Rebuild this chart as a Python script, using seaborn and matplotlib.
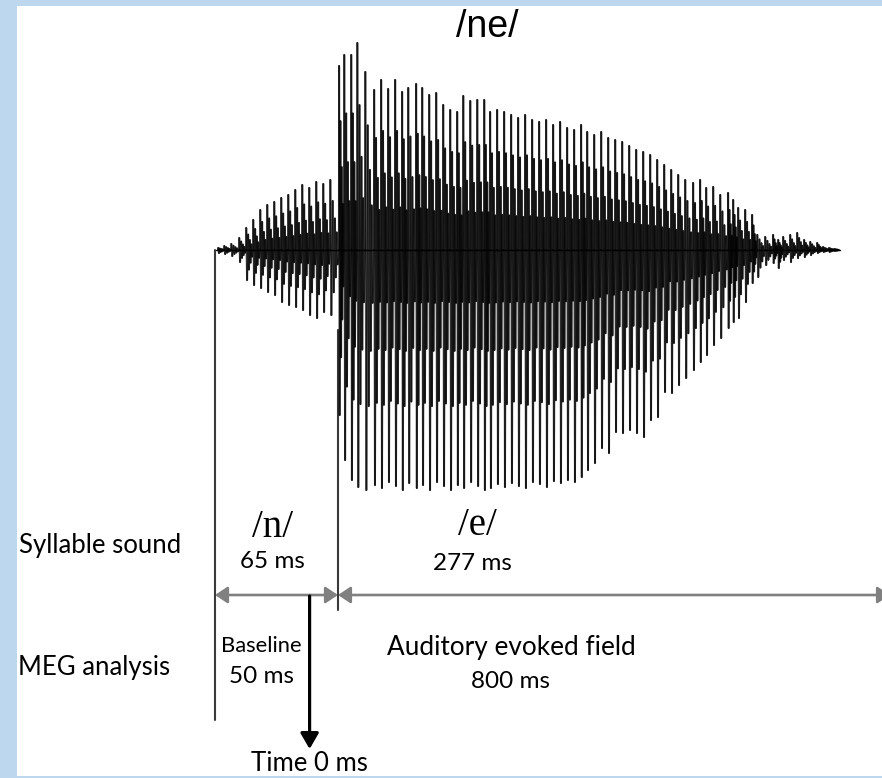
import numpy as np
import pandas as pd
import matplotlib
matplotlib.use("Agg")
import matplotlib.pyplot as plt
import seaborn as sns

# ---- segment durations (ms) ----
segment_labels = ["/n/", "/e/"]
segment_ms = [65, 277]
baseline_ms = 50
aef_ms = 800

# ---- glottal pulses: onset time (ms from sound onset), upward and downward peak ----
pulse_t_n = [1.6, 4.8, 8.5, 12.7, 16.4, 20.1, 23.8, 27.5, 31.2, 34.9,
             38.6, 42.3, 46.0, 49.7, 53.4, 57.1, 60.8]
pulse_up_n = [2, 4, 6, 12, 22, 30, 40, 45, 48, 52, 55, 60, 65, 62, 68, 66, 70]
pulse_dn_n = [3, 4, 6, 12, 30, 35, 38, 42, 45, 52, 55, 57, 60, 65, 68, 62, 65]

pulse_t_e = [65.5, 68.2, 71.9, 75.1, 79.3, 84.0, 87.7, 91.4, 95.1, 98.8,
             102.0, 106.2, 109.4, 113.1, 116.8, 120.5, 124.2, 127.9, 131.1, 134.8,
             138.5, 142.2, 145.3, 149.0, 152.7, 156.4, 160.1, 163.8, 167.5, 171.2,
             174.9, 178.6, 182.3, 186.0, 189.7, 193.4, 196.6, 200.3, 204.0, 207.7,
             211.4, 215.1, 218.8, 222.5, 226.2, 229.9, 233.6, 237.3, 241.0, 244.7,
             248.4, 252.6, 256.3, 259.5, 263.2, 266.9, 271.1, 273.8, 276.4, 280.1,
             283.8, 286.5, 290.7, 294.9, 297.6, 300.2, 303.9, 307.6, 311.3, 314.5,
             318.2, 321.3, 324.5, 327.2]
pulse_up_e = [184, 195, 195, 207, 178, 160, 170, 161, 170, 158,
              162, 166, 162, 155, 157, 145, 140, 138, 154, 149,
              150, 150, 138, 140, 138, 135, 132, 135, 130, 128,
              130, 125, 128, 122, 120, 125, 118, 115, 118, 112,
              110, 108, 104, 100, 98, 95, 90, 85, 80, 75,
              70, 67, 70, 62, 63, 55, 57, 50, 42, 40,
              35, 15, 13, 15, 10, 13, 15, 17, 10, 8,
              7, 3, 2, 1]
pulse_dn_e = [165, 210, 230, 237, 240, 235, 238, 232, 236, 240,
              233, 238, 235, 240, 232, 236, 240, 235, 238, 232,
              236, 240, 238, 234, 237, 233, 236, 238, 232, 234,
              237, 231, 233, 230, 232, 227, 220, 213, 198, 203,
              182, 183, 180, 183, 187, 170, 167, 142, 143, 135,
              128, 120, 112, 105, 95, 88, 78, 72, 68, 52,
              33, 27, 15, 13, 18, 10, 12, 8, 7, 5,
              3, 2, 2, 1]

# shape of one glottal cycle: phase within the period and relative excursion
# (positive entries scale the upward peak, negative ones the downward peak)
CYCLE_PHASE = [0.00, 0.03, 0.15, 0.30, 0.42, 0.55, 0.65, 0.76, 0.86, 1.00]
CYCLE_SHAPE = [0.0, 1.0, -1.0, 0.70, -0.65, 0.45, -0.42, 0.25, -0.22, 0.0]

# ---- page geometry (pixels) ----
W, H = 882, 778
ONSET_PX, PX_PER_MS, MID_PX = 215.0, 1.892, 250.0


def X(px):
    return (px - ONSET_PX) / PX_PER_MS


def Y(py):
    return MID_PX - py


# ---- waveform as individual strokes so overlapping strokes darken ----
t_all = np.array(pulse_t_n + pulse_t_e, float)
up_all = np.array(pulse_up_n + pulse_up_e, float)
dn_all = np.array(pulse_dn_n + pulse_dn_e, float)
periods = np.diff(t_all, append=t_all[-1] + (t_all[-1] - t_all[-2]))

pts_t, pts_a = [], []
for t, p, u, d in zip(t_all, periods, up_all, dn_all):
    for ph, r in zip(CYCLE_PHASE, CYCLE_SHAPE):
        pts_t.append(t + ph * p)
        pts_a.append(u * r if r > 0 else d * r)

rows = []
for k in range(len(pts_t) - 1):
    rows.append((pts_t[k], pts_a[k], k))
    rows.append((pts_t[k + 1], pts_a[k + 1], k))
wave = pd.DataFrame(rows, columns=["time_ms", "amplitude", "stroke"])

# ---- figure ----
sns.set_style("white")
plt.rcParams["font.family"] = ["Lato", "DejaVu Sans"]
plt.rcParams["text.color"] = "black"

fig = plt.figure(figsize=(W / 100, H / 100), dpi=100, facecolor="#BDD7EE")
ax = fig.add_axes([17 / W, 2 / H, (W - 17) / W, 770 / H])
ax.set_facecolor("white")
ax.set_xlim(X(17), X(W))
ax.set_ylim(Y(776), Y(6))
ax.set_xticks([])
ax.set_yticks([])
for s in ax.spines.values():
    s.set_visible(False)

n_end = segment_ms[0]
e_end = segment_ms[0] + segment_ms[1]

# onset and /n/-/e/ boundary markers
ax.plot([0, 0], [0, Y(720)], color="#3a3a3a", lw=1.5, zorder=1)
ax.plot([n_end, n_end], [Y(330), Y(610)], color="#3a3a3a", lw=1.5, zorder=1)

sns.lineplot(data=wave, x="time_ms", y="amplitude", units="stroke",
             estimator=None, sort=False, color="black", alpha=0.7,
             lw=1.45, ax=ax, zorder=3, legend=False)
ax.plot([t_all[0] - 1.0, t_all[-1] + 3.0], [0, 0], color="black", lw=1.0, zorder=4)
ax.set_xlabel("")
ax.set_ylabel("")

# segment arrows
arrow_y = Y(595)
gray_arrow = dict(arrowstyle="<|-|>,head_length=0.75,head_width=0.5",
                  color="#808080", lw=1.9, shrinkA=0, shrinkB=0,
                  mutation_scale=10)
ax.annotate("", xy=(0, arrow_y), xytext=(n_end, arrow_y), arrowprops=gray_arrow)
ax.annotate("", xy=(n_end, arrow_y), xytext=(X(890), arrow_y),
            arrowprops=gray_arrow, annotation_clip=False)

# time-zero arrow at the end of the baseline
ax.annotate("", xy=(baseline_ms, Y(749)), xytext=(baseline_ms, Y(596)),
            arrowprops=dict(arrowstyle="-|>,head_length=0.95,head_width=0.55",
                            color="black", lw=2.3, shrinkA=0, shrinkB=0,
                            mutation_scale=10))

# ---- text ----
ax.text(X(487), Y(37), "/ne/", ha="center", va="baseline", fontsize=27,
        family="Liberation Sans")
ax.text(X(19), Y(553), "Syllable sound", ha="left", va="baseline", fontsize=18.5)
ax.text(X(18), Y(675), "MEG analysis", ha="left", va="baseline", fontsize=18.5)

ax.text(X(272), Y(537), segment_labels[0], ha="center", va="baseline",
        fontsize=28, family="Liberation Serif")
ax.text(X(272), Y(568), f"{segment_ms[0]} ms", ha="center", va="baseline", fontsize=17.5)
ax.text(X(477), Y(535), segment_labels[1], ha="center", va="baseline",
        fontsize=28, family="Liberation Serif")
ax.text(X(472), Y(570), f"{segment_ms[1]} ms", ha="center", va="baseline", fontsize=17.5)

ax.text(X(261), Y(652), "Baseline", ha="center", va="baseline", fontsize=15.8)
ax.text(X(261), Y(683), f"{baseline_ms} ms", ha="center", va="baseline", fontsize=17.5)
ax.text(X(511), Y(655), "Auditory evoked field", ha="center", va="baseline", fontsize=18.8)
ax.text(X(510), Y(688), f"{aef_ms} ms", ha="center", va="baseline", fontsize=17.5)
ax.text(X(309), Y(771), "Time 0 ms", ha="center", va="baseline", fontsize=18.5)

fig.savefig("out.png", dpi=100, facecolor=fig.get_facecolor())
